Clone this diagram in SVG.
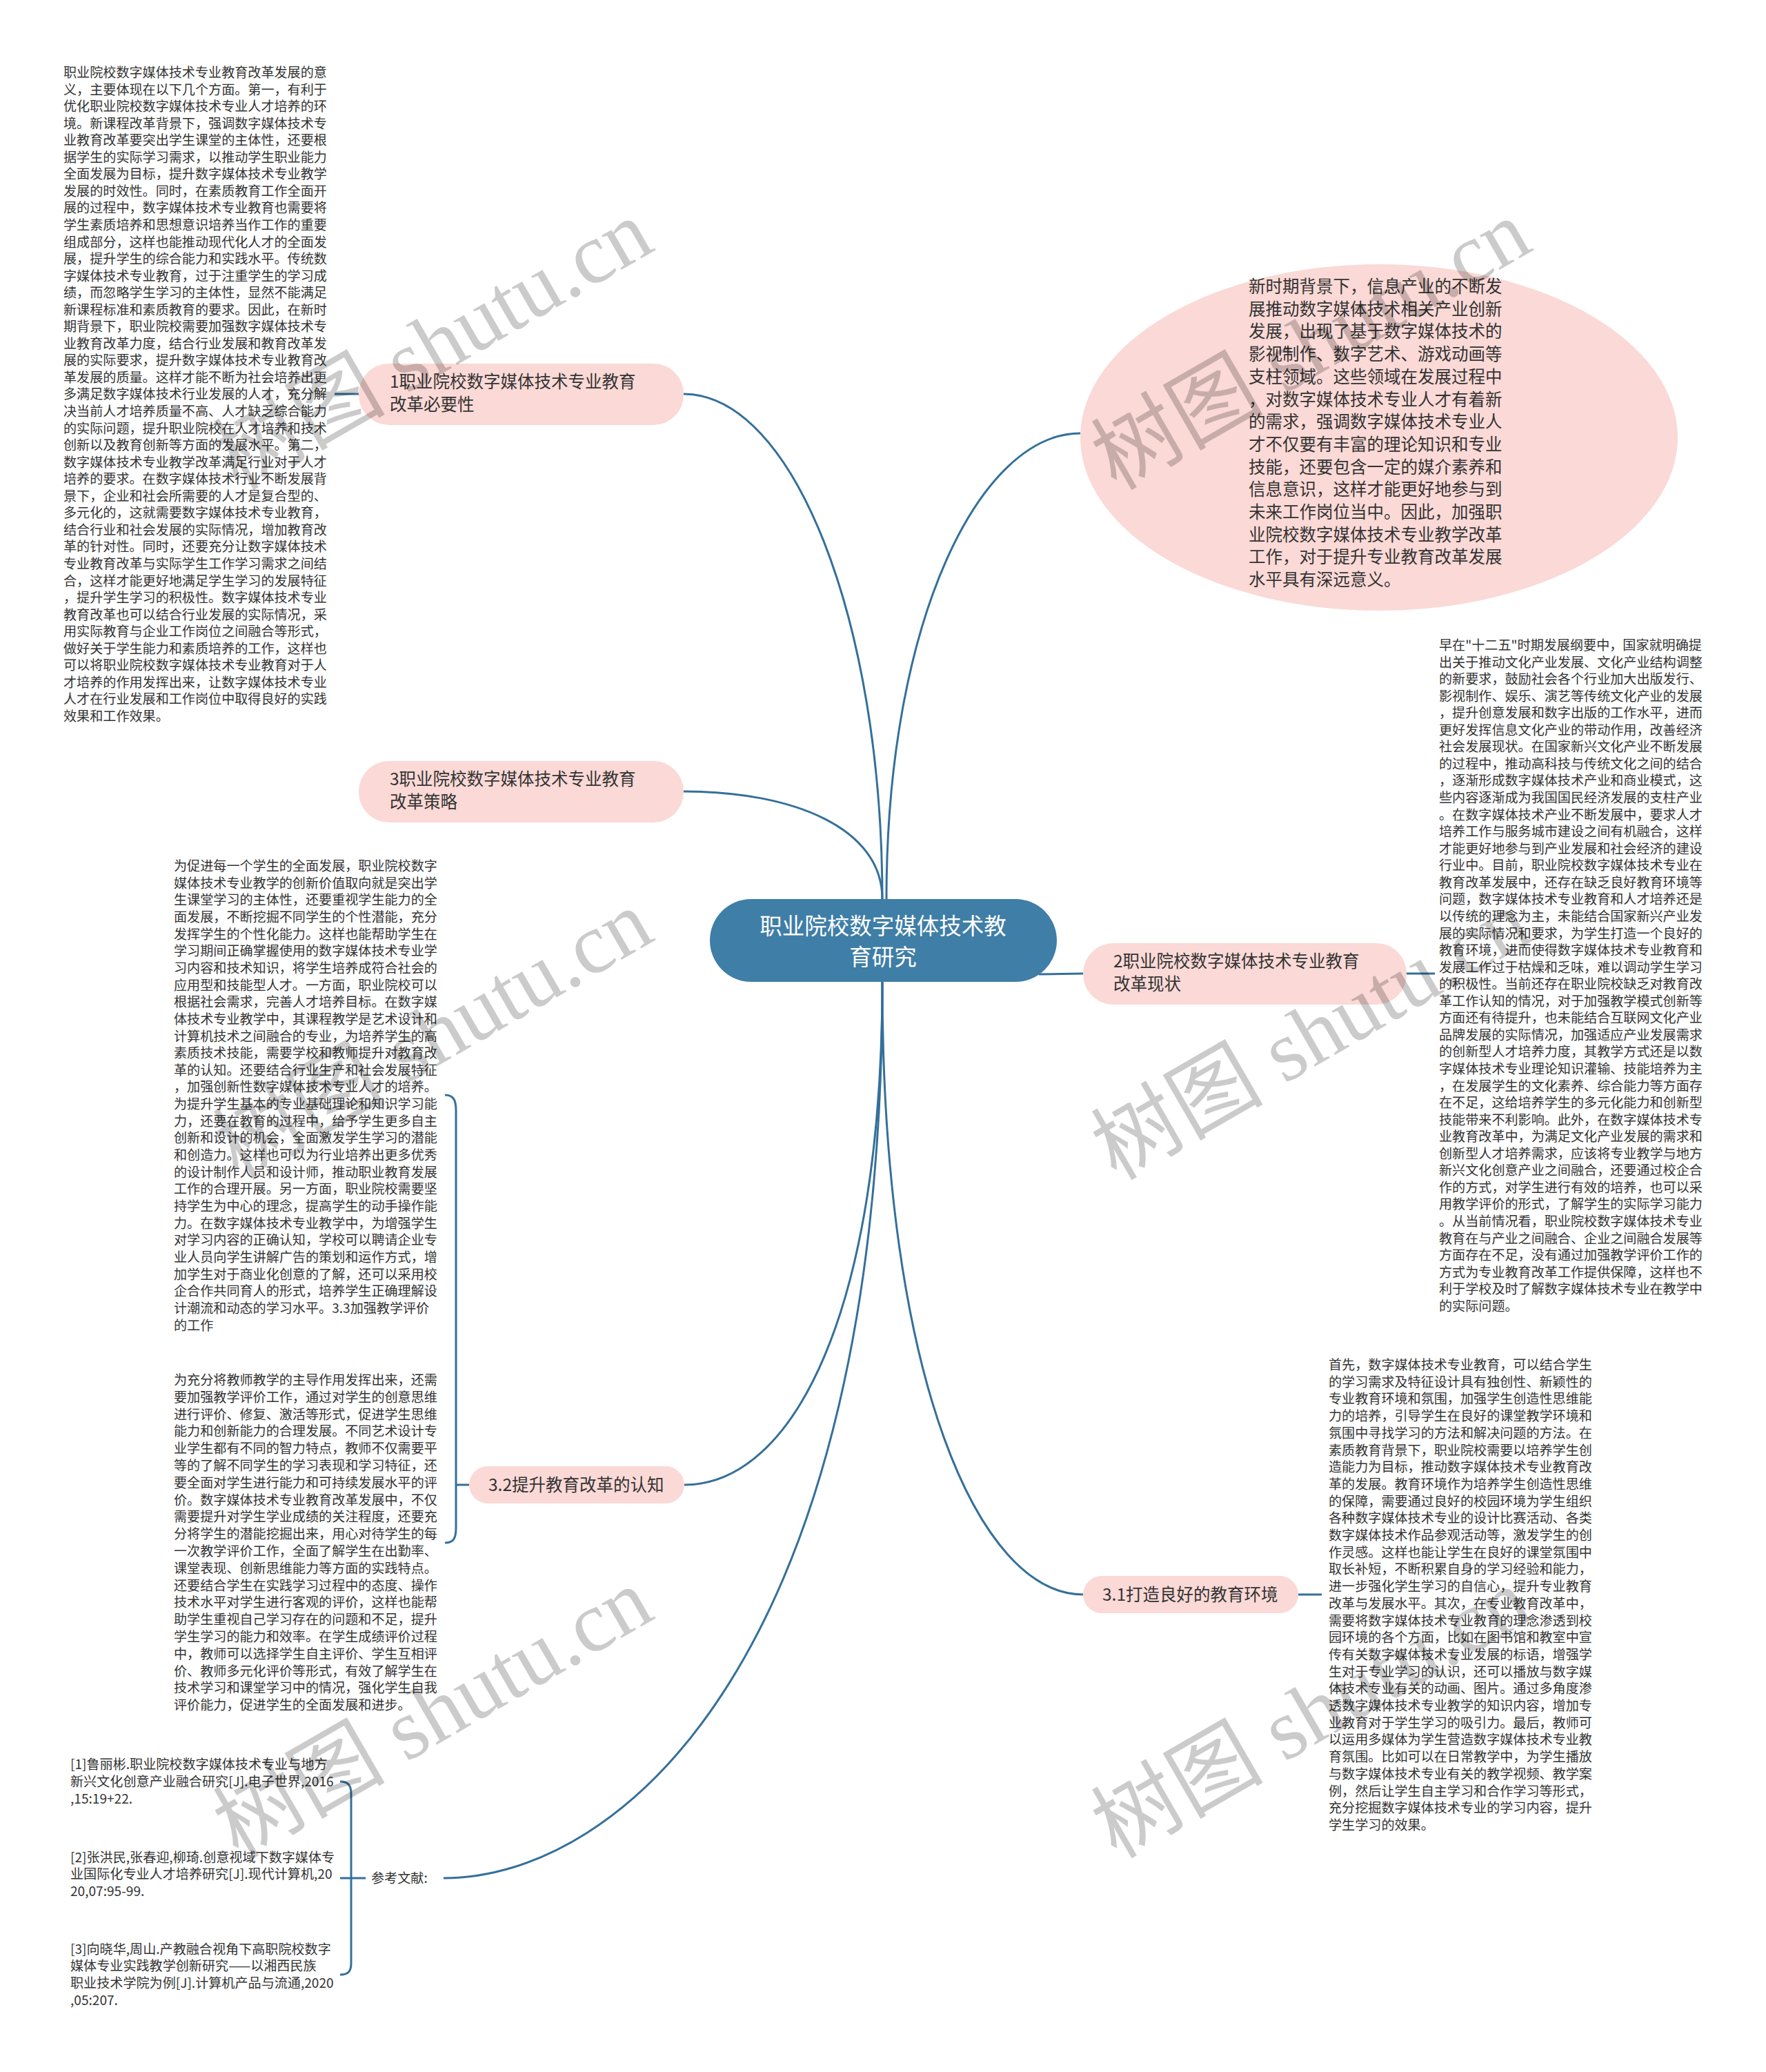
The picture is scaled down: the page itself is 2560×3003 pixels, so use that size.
<svg xmlns="http://www.w3.org/2000/svg" width="2560" height="3003" viewBox="0 0 2560 3003">
<style>
.bg{fill:#ffffff}
.pink{fill:#fad9d6}
.center{fill:#3f7ea6}
.lnk{fill:none;stroke:#34709a;stroke-width:3}
.t{font-family:"Noto Sans CJK SC","Noto Sans",sans-serif;fill:#333333}
.s{font-size:19.1px}
.m{font-size:24.5px}
.c{font-size:32.5px;fill:#ffffff}
.wm{font-family:"Liberation Serif","Noto Sans CJK SC",serif;font-size:125px;fill:#000000;opacity:0.2}
</style>
<rect class="bg" x="0" y="0" width="2560" height="3003"/>

<g id="connectors">
  <path class="lnk" d="M991 571 C1150 571,1279 900,1279 1303"/>
  <path class="lnk" d="M1566 628 C1420 628,1285 900,1285 1303"/>
  <path class="lnk" d="M991 1147 C1150 1147,1279 1200,1279 1303"/>
  <path class="lnk" d="M1506 1412 L1570 1411"/>
  <path class="lnk" d="M1279 1423 C1279 1900,1150 2152,992 2152"/>
  <path class="lnk" d="M1279 1423 C1279 2000,1420 2311,1570 2311"/>
  <path class="lnk" d="M1279 1423 C1279 2400,900 2722,643 2722"/>
  <path class="lnk" d="M520 571 L485 571"/>
  <path class="lnk" d="M2039 1411 L2080 1411"/>
  <path class="lnk" d="M1882 2311 L1916 2311"/>
  <path class="lnk" d="M645 1587 C658 1587,661 1595,661 1610 L661 2214 C661 2229,658 2236,645 2236 M661 2152 L680 2152"/>
  <path class="lnk" d="M493 2582 C505 2582,509 2588,509 2600 L509 2845 C509 2857,505 2862,493 2862 M493 2722 L530 2722"/>
</g>

<g id="center-node">
  <rect class="center" x="1029" y="1303" width="503" height="120" rx="60"/>
  <text class="t c" text-anchor="middle"><tspan x="1280" y="1354">职业院校数字媒体技术教</tspan><tspan x="1280" y="1399">育研究</tspan></text>
</g>

<g id="node-1">
  <rect class="pink" x="520" y="527" width="471" height="89" rx="44"/>
  <text class="t m"><tspan x="565" y="562">1职业院校数字媒体技术专业教育</tspan><tspan x="565" y="595">改革必要性</tspan></text>
</g>

<g id="node-1-text">
  <text class="t s">
    <tspan x="92" y="112">职业院校数字媒体技术专业教育改革发展的意</tspan>
    <tspan x="92" y="136.55">义，主要体现在以下几个方面。第一，有利于</tspan>
    <tspan x="92" y="161.1">优化职业院校数字媒体技术专业人才培养的环</tspan>
    <tspan x="92" y="185.65">境。新课程改革背景下，强调数字媒体技术专</tspan>
    <tspan x="92" y="210.2">业教育改革要突出学生课堂的主体性，还要根</tspan>
    <tspan x="92" y="234.75">据学生的实际学习需求，以推动学生职业能力</tspan>
    <tspan x="92" y="259.3">全面发展为目标，提升数字媒体技术专业教学</tspan>
    <tspan x="92" y="283.85">发展的时效性。同时，在素质教育工作全面开</tspan>
    <tspan x="92" y="308.4">展的过程中，数字媒体技术专业教育也需要将</tspan>
    <tspan x="92" y="332.95">学生素质培养和思想意识培养当作工作的重要</tspan>
    <tspan x="92" y="357.5">组成部分，这样也能推动现代化人才的全面发</tspan>
    <tspan x="92" y="382.05">展，提升学生的综合能力和实践水平。传统数</tspan>
    <tspan x="92" y="406.6">字媒体技术专业教育，过于注重学生的学习成</tspan>
    <tspan x="92" y="431.15">绩，而忽略学生学习的主体性，显然不能满足</tspan>
    <tspan x="92" y="455.7">新课程标准和素质教育的要求。因此，在新时</tspan>
    <tspan x="92" y="480.25">期背景下，职业院校需要加强数字媒体技术专</tspan>
    <tspan x="92" y="504.8">业教育改革力度，结合行业发展和教育改革发</tspan>
    <tspan x="92" y="529.35">展的实际要求，提升数字媒体技术专业教育改</tspan>
    <tspan x="92" y="553.9">革发展的质量。这样才能不断为社会培养出更</tspan>
    <tspan x="92" y="578.45">多满足数字媒体技术行业发展的人才，充分解</tspan>
    <tspan x="92" y="603">决当前人才培养质量不高、人才缺乏综合能力</tspan>
    <tspan x="92" y="627.55">的实际问题，提升职业院校在人才培养和技术</tspan>
    <tspan x="92" y="652.1">创新以及教育创新等方面的发展水平。第二，</tspan>
    <tspan x="92" y="676.65">数字媒体技术专业教学改革满足行业对于人才</tspan>
    <tspan x="92" y="701.2">培养的要求。在数字媒体技术行业不断发展背</tspan>
    <tspan x="92" y="725.75">景下，企业和社会所需要的人才是复合型的、</tspan>
    <tspan x="92" y="750.3">多元化的，这就需要数字媒体技术专业教育，</tspan>
    <tspan x="92" y="774.85">结合行业和社会发展的实际情况，增加教育改</tspan>
    <tspan x="92" y="799.4">革的针对性。同时，还要充分让数字媒体技术</tspan>
    <tspan x="92" y="823.95">专业教育改革与实际学生工作学习需求之间结</tspan>
    <tspan x="92" y="848.5">合，这样才能更好地满足学生学习的发展特征</tspan>
    <tspan x="92" y="873.05">，提升学生学习的积极性。数字媒体技术专业</tspan>
    <tspan x="92" y="897.6">教育改革也可以结合行业发展的实际情况，采</tspan>
    <tspan x="92" y="922.15">用实际教育与企业工作岗位之间融合等形式，</tspan>
    <tspan x="92" y="946.7">做好关于学生能力和素质培养的工作，这样也</tspan>
    <tspan x="92" y="971.25">可以将职业院校数字媒体技术专业教育对于人</tspan>
    <tspan x="92" y="995.8">才培养的作用发挥出来，让数字媒体技术专业</tspan>
    <tspan x="92" y="1020.35">人才在行业发展和工作岗位中取得良好的实践</tspan>
    <tspan x="92" y="1044.9">效果和工作效果。</tspan>
  </text>
</g>

<g id="node-ellipse">
  <ellipse class="pink" cx="1999" cy="634" rx="433" ry="251"/>
  <text class="t m">
    <tspan x="1810" y="424">新时期背景下，信息产业的不断发</tspan>
    <tspan x="1810" y="456.7">展推动数字媒体技术相关产业创新</tspan>
    <tspan x="1810" y="489.4">发展，出现了基于数字媒体技术的</tspan>
    <tspan x="1810" y="522.1">影视制作、数字艺术、游戏动画等</tspan>
    <tspan x="1810" y="554.8">支柱领域。这些领域在发展过程中</tspan>
    <tspan x="1810" y="587.5">，对数字媒体技术专业人才有着新</tspan>
    <tspan x="1810" y="620.2">的需求，强调数字媒体技术专业人</tspan>
    <tspan x="1810" y="652.9">才不仅要有丰富的理论知识和专业</tspan>
    <tspan x="1810" y="685.6">技能，还要包含一定的媒介素养和</tspan>
    <tspan x="1810" y="718.3">信息意识，这样才能更好地参与到</tspan>
    <tspan x="1810" y="751">未来工作岗位当中。因此，加强职</tspan>
    <tspan x="1810" y="783.7">业院校数字媒体技术专业教学改革</tspan>
    <tspan x="1810" y="816.4">工作，对于提升专业教育改革发展</tspan>
    <tspan x="1810" y="849.1">水平具有深远意义。</tspan>
  </text>
</g>

<g id="node-3">
  <rect class="pink" x="520" y="1103" width="471" height="89" rx="44"/>
  <text class="t m"><tspan x="565" y="1138">3职业院校数字媒体技术专业教育</tspan><tspan x="565" y="1171">改革策略</tspan></text>
</g>

<g id="node-2">
  <rect class="pink" x="1570" y="1367" width="469" height="89" rx="44"/>
  <text class="t m"><tspan x="1614" y="1402">2职业院校数字媒体技术专业教育</tspan><tspan x="1614" y="1435">改革现状</tspan></text>
</g>

<g id="node-2-text">
  <text class="t s">
    <tspan x="2086" y="942">早在"十二五"时期发展纲要中，国家就明确提</tspan>
    <tspan x="2086" y="966.56">出关于推动文化产业发展、文化产业结构调整</tspan>
    <tspan x="2086" y="991.12">的新要求，鼓励社会各个行业加大出版发行、</tspan>
    <tspan x="2086" y="1015.68">影视制作、娱乐、演艺等传统文化产业的发展</tspan>
    <tspan x="2086" y="1040.24">，提升创意发展和数字出版的工作水平，进而</tspan>
    <tspan x="2086" y="1064.8">更好发挥信息文化产业的带动作用，改善经济</tspan>
    <tspan x="2086" y="1089.36">社会发展现状。在国家新兴文化产业不断发展</tspan>
    <tspan x="2086" y="1113.92">的过程中，推动高科技与传统文化之间的结合</tspan>
    <tspan x="2086" y="1138.48">，逐渐形成数字媒体技术产业和商业模式，这</tspan>
    <tspan x="2086" y="1163.04">些内容逐渐成为我国国民经济发展的支柱产业</tspan>
    <tspan x="2086" y="1187.6">。在数字媒体技术产业不断发展中，要求人才</tspan>
    <tspan x="2086" y="1212.16">培养工作与服务城市建设之间有机融合，这样</tspan>
    <tspan x="2086" y="1236.72">才能更好地参与到产业发展和社会经济的建设</tspan>
    <tspan x="2086" y="1261.28">行业中。目前，职业院校数字媒体技术专业在</tspan>
    <tspan x="2086" y="1285.84">教育改革发展中，还存在缺乏良好教育环境等</tspan>
    <tspan x="2086" y="1310.4">问题，数字媒体技术专业教育和人才培养还是</tspan>
    <tspan x="2086" y="1334.96">以传统的理念为主，未能结合国家新兴产业发</tspan>
    <tspan x="2086" y="1359.52">展的实际情况和要求，为学生打造一个良好的</tspan>
    <tspan x="2086" y="1384.08">教育环境，进而使得数字媒体技术专业教育和</tspan>
    <tspan x="2086" y="1408.64">发展工作过于枯燥和乏味，难以调动学生学习</tspan>
    <tspan x="2086" y="1433.2">的积极性。当前还存在职业院校缺乏对教育改</tspan>
    <tspan x="2086" y="1457.76">革工作认知的情况，对于加强教学模式创新等</tspan>
    <tspan x="2086" y="1482.32">方面还有待提升，也未能结合互联网文化产业</tspan>
    <tspan x="2086" y="1506.88">品牌发展的实际情况，加强适应产业发展需求</tspan>
    <tspan x="2086" y="1531.44">的创新型人才培养力度，其教学方式还是以数</tspan>
    <tspan x="2086" y="1556">字媒体技术专业理论知识灌输、技能培养为主</tspan>
    <tspan x="2086" y="1580.56">，在发展学生的文化素养、综合能力等方面存</tspan>
    <tspan x="2086" y="1605.12">在不足，这给培养学生的多元化能力和创新型</tspan>
    <tspan x="2086" y="1629.68">技能带来不利影响。此外，在数字媒体技术专</tspan>
    <tspan x="2086" y="1654.24">业教育改革中，为满足文化产业发展的需求和</tspan>
    <tspan x="2086" y="1678.8">创新型人才培养需求，应该将专业教学与地方</tspan>
    <tspan x="2086" y="1703.36">新兴文化创意产业之间融合，还要通过校企合</tspan>
    <tspan x="2086" y="1727.92">作的方式，对学生进行有效的培养，也可以采</tspan>
    <tspan x="2086" y="1752.48">用教学评价的形式，了解学生的实际学习能力</tspan>
    <tspan x="2086" y="1777.04">。从当前情况看，职业院校数字媒体技术专业</tspan>
    <tspan x="2086" y="1801.6">教育在与产业之间融合、企业之间融合发展等</tspan>
    <tspan x="2086" y="1826.16">方面存在不足，没有通过加强教学评价工作的</tspan>
    <tspan x="2086" y="1850.72">方式为专业教育改革工作提供保障，这样也不</tspan>
    <tspan x="2086" y="1875.28">利于学校及时了解数字媒体技术专业在教学中</tspan>
    <tspan x="2086" y="1899.84">的实际问题。</tspan>
  </text>
</g>

<g id="node-3-2">
  <rect class="pink" x="680" y="2125" width="312" height="54" rx="27"/>
  <text class="t m"><tspan x="708" y="2161">3.2提升教育改革的认知</tspan></text>
</g>

<g id="node-3-3-text">
  <text class="t s">
    <tspan x="252" y="1262">为促进每一个学生的全面发展，职业院校数字</tspan>
    <tspan x="252" y="1286.65">媒体技术专业教学的创新价值取向就是突出学</tspan>
    <tspan x="252" y="1311.3">生课堂学习的主体性，还要重视学生能力的全</tspan>
    <tspan x="252" y="1335.95">面发展，不断挖掘不同学生的个性潜能，充分</tspan>
    <tspan x="252" y="1360.6">发挥学生的个性化能力。这样也能帮助学生在</tspan>
    <tspan x="252" y="1385.25">学习期间正确掌握使用的数字媒体技术专业学</tspan>
    <tspan x="252" y="1409.9">习内容和技术知识，将学生培养成符合社会的</tspan>
    <tspan x="252" y="1434.55">应用型和技能型人才。一方面，职业院校可以</tspan>
    <tspan x="252" y="1459.2">根据社会需求，完善人才培养目标。在数字媒</tspan>
    <tspan x="252" y="1483.85">体技术专业教学中，其课程教学是艺术设计和</tspan>
    <tspan x="252" y="1508.5">计算机技术之间融合的专业，为培养学生的高</tspan>
    <tspan x="252" y="1533.15">素质技术技能，需要学校和教师提升对教育改</tspan>
    <tspan x="252" y="1557.8">革的认知。还要结合行业生产和社会发展特征</tspan>
    <tspan x="252" y="1582.45">，加强创新性数字媒体技术专业人才的培养。</tspan>
    <tspan x="252" y="1607.1">为提升学生基本的专业基础理论和知识学习能</tspan>
    <tspan x="252" y="1631.75">力，还要在教育的过程中，给予学生更多自主</tspan>
    <tspan x="252" y="1656.4">创新和设计的机会，全面激发学生学习的潜能</tspan>
    <tspan x="252" y="1681.05">和创造力。这样也可以为行业培养出更多优秀</tspan>
    <tspan x="252" y="1705.7">的设计制作人员和设计师，推动职业教育发展</tspan>
    <tspan x="252" y="1730.35">工作的合理开展。另一方面，职业院校需要坚</tspan>
    <tspan x="252" y="1755">持学生为中心的理念，提高学生的动手操作能</tspan>
    <tspan x="252" y="1779.65">力。在数字媒体技术专业教学中，为增强学生</tspan>
    <tspan x="252" y="1804.3">对学习内容的正确认知，学校可以聘请企业专</tspan>
    <tspan x="252" y="1828.95">业人员向学生讲解广告的策划和运作方式，增</tspan>
    <tspan x="252" y="1853.6">加学生对于商业化创意的了解，还可以采用校</tspan>
    <tspan x="252" y="1878.25">企合作共同育人的形式，培养学生正确理解设</tspan>
    <tspan x="252" y="1902.9">计潮流和动态的学习水平。3.3加强教学评价</tspan>
    <tspan x="252" y="1927.55">的工作</tspan>
  </text>
</g>

<g id="node-3-2-text">
  <text class="t s">
    <tspan x="252" y="2007">为充分将教师教学的主导作用发挥出来，还需</tspan>
    <tspan x="252" y="2031.8">要加强教学评价工作，通过对学生的创意思维</tspan>
    <tspan x="252" y="2056.6">进行评价、修复、激活等形式，促进学生思维</tspan>
    <tspan x="252" y="2081.4">能力和创新能力的合理发展。不同艺术设计专</tspan>
    <tspan x="252" y="2106.2">业学生都有不同的智力特点，教师不仅需要平</tspan>
    <tspan x="252" y="2131">等的了解不同学生的学习表现和学习特征，还</tspan>
    <tspan x="252" y="2155.8">要全面对学生进行能力和可持续发展水平的评</tspan>
    <tspan x="252" y="2180.6">价。数字媒体技术专业教育改革发展中，不仅</tspan>
    <tspan x="252" y="2205.4">需要提升对学生学业成绩的关注程度，还要充</tspan>
    <tspan x="252" y="2230.2">分将学生的潜能挖掘出来，用心对待学生的每</tspan>
    <tspan x="252" y="2255">一次教学评价工作，全面了解学生在出勤率、</tspan>
    <tspan x="252" y="2279.8">课堂表现、创新思维能力等方面的实践特点。</tspan>
    <tspan x="252" y="2304.6">还要结合学生在实践学习过程中的态度、操作</tspan>
    <tspan x="252" y="2329.4">技术水平对学生进行客观的评价，这样也能帮</tspan>
    <tspan x="252" y="2354.2">助学生重视自己学习存在的问题和不足，提升</tspan>
    <tspan x="252" y="2379">学生学习的能力和效率。在学生成绩评价过程</tspan>
    <tspan x="252" y="2403.8">中，教师可以选择学生自主评价、学生互相评</tspan>
    <tspan x="252" y="2428.6">价、教师多元化评价等形式，有效了解学生在</tspan>
    <tspan x="252" y="2453.4">技术学习和课堂学习中的情况，强化学生自我</tspan>
    <tspan x="252" y="2478.2">评价能力，促进学生的全面发展和进步。</tspan>
  </text>
</g>

<g id="node-3-1">
  <rect class="pink" x="1570" y="2284" width="312" height="54" rx="27"/>
  <text class="t m"><tspan x="1598" y="2320">3.1打造良好的教育环境</tspan></text>
</g>

<g id="node-3-1-text">
  <text class="t s">
    <tspan x="1926" y="1985">首先，数字媒体技术专业教育，可以结合学生</tspan>
    <tspan x="1926" y="2009.7">的学习需求及特征设计具有独创性、新颖性的</tspan>
    <tspan x="1926" y="2034.4">专业教育环境和氛围，加强学生创造性思维能</tspan>
    <tspan x="1926" y="2059.1">力的培养，引导学生在良好的课堂教学环境和</tspan>
    <tspan x="1926" y="2083.8">氛围中寻找学习的方法和解决问题的方法。在</tspan>
    <tspan x="1926" y="2108.5">素质教育背景下，职业院校需要以培养学生创</tspan>
    <tspan x="1926" y="2133.2">造能力为目标，推动数字媒体技术专业教育改</tspan>
    <tspan x="1926" y="2157.9">革的发展。教育环境作为培养学生创造性思维</tspan>
    <tspan x="1926" y="2182.6">的保障，需要通过良好的校园环境为学生组织</tspan>
    <tspan x="1926" y="2207.3">各种数字媒体技术专业的设计比赛活动、各类</tspan>
    <tspan x="1926" y="2232">数字媒体技术作品参观活动等，激发学生的创</tspan>
    <tspan x="1926" y="2256.7">作灵感。这样也能让学生在良好的课堂氛围中</tspan>
    <tspan x="1926" y="2281.4">取长补短，不断积累自身的学习经验和能力，</tspan>
    <tspan x="1926" y="2306.1">进一步强化学生学习的自信心，提升专业教育</tspan>
    <tspan x="1926" y="2330.8">改革与发展水平。其次，在专业教育改革中，</tspan>
    <tspan x="1926" y="2355.5">需要将数字媒体技术专业教育的理念渗透到校</tspan>
    <tspan x="1926" y="2380.2">园环境的各个方面，比如在图书馆和教室中宣</tspan>
    <tspan x="1926" y="2404.9">传有关数字媒体技术专业发展的标语，增强学</tspan>
    <tspan x="1926" y="2429.6">生对于专业学习的认识，还可以播放与数字媒</tspan>
    <tspan x="1926" y="2454.3">体技术专业有关的动画、图片。通过多角度渗</tspan>
    <tspan x="1926" y="2479">透数字媒体技术专业教学的知识内容，增加专</tspan>
    <tspan x="1926" y="2503.7">业教育对于学生学习的吸引力。最后，教师可</tspan>
    <tspan x="1926" y="2528.4">以运用多媒体为学生营造数字媒体技术专业教</tspan>
    <tspan x="1926" y="2553.1">育氛围。比如可以在日常教学中，为学生播放</tspan>
    <tspan x="1926" y="2577.8">与数字媒体技术专业有关的教学视频、教学案</tspan>
    <tspan x="1926" y="2602.5">例，然后让学生自主学习和合作学习等形式，</tspan>
    <tspan x="1926" y="2627.2">充分挖掘数字媒体技术专业的学习内容，提升</tspan>
    <tspan x="1926" y="2651.9">学生学习的效果。</tspan>
  </text>
</g>

<g id="node-refs">
  <text class="t s"><tspan x="538" y="2729">参考文献:</tspan></text>
</g>

<g id="ref-1">
  <text class="t s"><tspan x="102" y="2564">[1]鲁丽彬.职业院校数字媒体技术专业与地方</tspan><tspan x="102" y="2589">新兴文化创意产业融合研究[J].电子世界,2016</tspan><tspan x="102" y="2614">,15:19+22.</tspan></text>
</g>
<g id="ref-2">
  <text class="t s"><tspan x="102" y="2699">[2]张洪民,张春迎,柳琦.创意视域下数字媒体专</tspan><tspan x="102" y="2723">业国际化专业人才培养研究[J].现代计算机,20</tspan><tspan x="102" y="2748">20,07:95-99.</tspan></text>
</g>
<g id="ref-3">
  <text class="t s"><tspan x="102" y="2832">[3]向晓华,周山.产教融合视角下高职院校数字</tspan><tspan x="102" y="2856">媒体专业实践教学创新研究——以湘西民族</tspan><tspan x="102" y="2881">职业技术学院为例[J].计算机产品与流通,2020</tspan><tspan x="102" y="2906">,05:207.</tspan></text>
</g>

<g id="watermarks">
  <text class="wm" transform="translate(345 712) rotate(-30)">树图 shutu.cn</text>
  <text class="wm" transform="translate(1618 712) rotate(-30)">树图 shutu.cn</text>
  <text class="wm" transform="translate(345 1712) rotate(-30)">树图 shutu.cn</text>
  <text class="wm" transform="translate(1618 1712) rotate(-30)">树图 shutu.cn</text>
  <text class="wm" transform="translate(345 2695) rotate(-30)">树图 shutu.cn</text>
  <text class="wm" transform="translate(1618 2695) rotate(-30)">树图 shutu.cn</text>
</g>
</svg>
